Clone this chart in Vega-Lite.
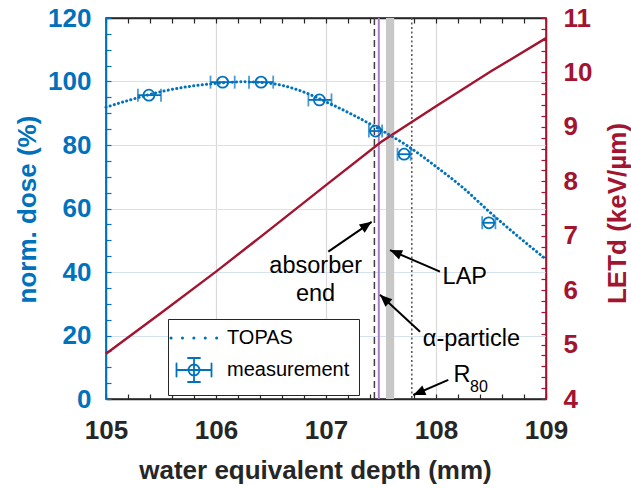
{
  "$schema": "https://vega.github.io/schema/vega-lite/v6.json",
  "width": 440,
  "height": 381,
  "autosize": "none",
  "padding": {"left": 106, "top": 18, "right": 85, "bottom": 89},
  "background": "white",
  "config": {
    "view": {"stroke": "#262626", "strokeWidth": 1.5},
    "font": "Liberation Sans",
    "axis": {
      "labelFont": "Liberation Sans",
      "titleFont": "Liberation Sans",
      "labelFontWeight": "bold",
      "titleFontWeight": "bold",
      "labelFontSize": 26,
      "titleFontSize": 26,
      "domainWidth": 1.5,
      "tickWidth": 1.2
    }
  },
  "datasets": {
    "topas": [
      {"depth": 105.0, "dose": 91.9, "series": "TOPAS"},
      {"depth": 105.25, "dose": 94.5, "series": "TOPAS"},
      {"depth": 105.5, "dose": 96.8, "series": "TOPAS"},
      {"depth": 105.75, "dose": 98.4, "series": "TOPAS"},
      {"depth": 106.0, "dose": 99.4, "series": "TOPAS"},
      {"depth": 106.25, "dose": 99.9, "series": "TOPAS"},
      {"depth": 106.5, "dose": 99.4, "series": "TOPAS"},
      {"depth": 106.75, "dose": 97.3, "series": "TOPAS"},
      {"depth": 107.0, "dose": 93.6, "series": "TOPAS"},
      {"depth": 107.25, "dose": 89.4, "series": "TOPAS"},
      {"depth": 107.5, "dose": 84.7, "series": "TOPAS"},
      {"depth": 107.75, "dose": 79.5, "series": "TOPAS"},
      {"depth": 108.0, "dose": 73.2, "series": "TOPAS"},
      {"depth": 108.25, "dose": 66.4, "series": "TOPAS"},
      {"depth": 108.5, "dose": 58.5, "series": "TOPAS"},
      {"depth": 108.75, "dose": 51.1, "series": "TOPAS"},
      {"depth": 109.0, "dose": 44.0, "series": "TOPAS"}
    ],
    "meas": [
      {"depth": 105.39, "dose": 95.7, "depth_lo": 105.29, "depth_hi": 105.5, "series": "measurement"},
      {"depth": 106.06, "dose": 99.8, "depth_lo": 105.95, "depth_hi": 106.17, "series": "measurement"},
      {"depth": 106.41, "dose": 99.8, "depth_lo": 106.3, "depth_hi": 106.52, "series": "measurement"},
      {"depth": 106.94, "dose": 94.2, "depth_lo": 106.84, "depth_hi": 107.05, "series": "measurement"},
      {"depth": 107.45, "dose": 84.4, "depth_lo": 107.39, "depth_hi": 107.51, "series": "measurement"},
      {"depth": 107.71, "dose": 77.1, "depth_lo": 107.65, "depth_hi": 107.77, "series": "measurement"},
      {"depth": 108.48, "dose": 55.5, "depth_lo": 108.42, "depth_hi": 108.54, "series": "measurement"}
    ],
    "letd": [
      {"depth": 105.0, "letd": 4.83},
      {"depth": 105.5, "letd": 5.58},
      {"depth": 106.0, "letd": 6.34},
      {"depth": 106.5, "letd": 7.13},
      {"depth": 107.0, "letd": 7.93},
      {"depth": 107.5, "letd": 8.72},
      {"depth": 108.0, "letd": 9.38},
      {"depth": 108.5, "letd": 10.02},
      {"depth": 109.0, "letd": 10.63}
    ],
    "markers": [
      {"marker": "absorber end", "depth": 107.44},
      {"marker": "alpha-particle", "depth": 107.48},
      {"marker": "R80", "depth": 107.78}
    ],
    "lap": [{"marker": "LAP", "lo": 107.545, "hi": 107.62}],
    "arrows": [
      {"arrow": "absorber", "depth": 107.021, "dose": 46.4, "depth_head": 107.415, "dose_head": 55.8},
      {"arrow": "LAP", "depth": 108.036, "dose": 40.1, "depth_head": 107.582, "dose_head": 46.9},
      {"arrow": "alpha", "depth": 107.855, "dose": 21.2, "depth_head": 107.491, "dose_head": 32.8},
      {"arrow": "R80", "depth": 108.112, "dose": 6.0, "depth_head": 107.794, "dose_head": 1.26}
    ],
    "labels": [
      {"text": "absorber", "depth": 106.485, "dose": 41.9},
      {"text": "end", "depth": 106.727, "dose": 33.1},
      {"text": "LAP", "depth": 108.06, "dose": 38.4},
      {"text": "α-particle", "depth": 107.88, "dose": 18.9},
      {"text": "R", "depth": 108.16, "dose": 7.6}
    ],
    "sub": [{"text": "80", "depth": 108.31, "dose": 3.9}]
  },
  "layer": [
    {
      "data": {"name": "lap"},
      "mark": {"type": "rect", "color": "#c8c8c8"},
      "encoding": {
        "x": {"field": "lo", "type": "quantitative", "scale": {"domain": [105, 109]},
          "axis": {
            "orient": "bottom",
            "values": [105, 105.2, 105.4, 105.6, 105.8, 106, 106.2, 106.4, 106.6, 106.8, 107, 107.2, 107.4, 107.6, 107.8, 108, 108.2, 108.4, 108.6, 108.8, 109],
            "labelExpr": "abs(datum.value - round(datum.value)) < 0.01 ? format(datum.value, 'd') : ''",
            "tickSize": -5,
            "labelPadding": 23,
            "labelColor": "#262626",
            "domainColor": "#262626",
            "tickColor": "#262626",
            "labelFlush": false,
            "labelOverlap": false,
            "grid": true,
            "gridColor": "#d9d9d9",
            "gridWidth": 1.2,
            "gridOpacity": {"condition": {"test": "abs(datum.value - round(datum.value)) < 0.01", "value": 1}, "value": 0},
            "title": "water equivalent depth (mm)",
            "titleColor": "#262626",
            "titleX": 209,
            "titleY": 79,
            "titleAlign": "center",
            "titleBaseline": "alphabetic"
          }
        },
        "x2": {"field": "hi"}
      }
    },
    {
      "data": {"name": "markers"},
      "transform": [{"filter": "datum.marker === 'absorber end'"}],
      "mark": {"type": "rule", "color": "#404040", "strokeWidth": 1.5, "strokeDash": [7, 4]},
      "encoding": {"x": {"field": "depth", "type": "quantitative", "axis": null}}
    },
    {
      "data": {"name": "markers"},
      "transform": [{"filter": "datum.marker === 'alpha-particle'"}],
      "mark": {"type": "rule", "color": "#b07cc6", "strokeWidth": 2},
      "encoding": {"x": {"field": "depth", "type": "quantitative", "axis": null}}
    },
    {
      "data": {"name": "markers"},
      "transform": [{"filter": "datum.marker === 'R80'"}],
      "mark": {"type": "rule", "color": "#555555", "strokeWidth": 1.5, "strokeDash": [2, 2.5]},
      "encoding": {"x": {"field": "depth", "type": "quantitative", "axis": null}}
    },
    {
      "data": {"name": "letd"},
      "mark": {"type": "line", "color": "#A2142F", "strokeWidth": 2.4},
      "encoding": {
        "x": {"field": "depth", "type": "quantitative",
          "axis": {
            "orient": "top",
            "values": [105, 105.2, 105.4, 105.6, 105.8, 106, 106.2, 106.4, 106.6, 106.8, 107, 107.2, 107.4, 107.6, 107.8, 108, 108.2, 108.4, 108.6, 108.8, 109],
            "labels": false,
            "tickSize": -5,
            "tickColor": "#262626",
            "domainColor": "#262626",
            "grid": false,
            "title": null
          }
        },
        "y": {"field": "letd", "type": "quantitative", "scale": {"domain": [4, 11]},
          "axis": {
            "orient": "right",
            "values": [4, 4.2, 4.4, 4.6, 4.8, 5, 5.2, 5.4, 5.6, 5.8, 6, 6.2, 6.4, 6.6, 6.8, 7, 7.2, 7.4, 7.6, 7.8, 8, 8.2, 8.4, 8.6, 8.8, 9, 9.2, 9.4, 9.6, 9.8, 10, 10.2, 10.4, 10.6, 10.8, 11],
            "labelExpr": "abs(datum.value - round(datum.value)) < 0.01 ? format(datum.value, 'd') : ''",
            "tickSize": -5,
            "labelPadding": 22,
            "labelColor": "#A2142F",
            "domainColor": "#A2142F",
            "tickColor": "#A2142F",
            "labelFlush": false,
            "labelOverlap": false,
            "grid": false,
            "title": "LETd (keV/µm)",
            "titleColor": "#A2142F",
            "titleAngle": 270,
            "titleX": 79,
            "titleY": 195,
            "titleAlign": "center",
            "titleBaseline": "alphabetic"
          }
        }
      }
    },
    {
      "data": {"name": "topas"},
      "mark": {"type": "line", "strokeWidth": 3, "strokeDash": [0.1, 4.2], "strokeCap": "round", "interpolate": "monotone"},
      "encoding": {
        "x": {"field": "depth", "type": "quantitative", "axis": null},
        "y": {"field": "dose", "type": "quantitative", "scale": {"domain": [0, 120]},
          "axis": {
            "orient": "left",
            "values": [0, 5, 10, 15, 20, 25, 30, 35, 40, 45, 50, 55, 60, 65, 70, 75, 80, 85, 90, 95, 100, 105, 110, 115, 120],
            "labelExpr": "datum.value % 20 === 0 ? datum.label : ''",
            "tickSize": -5,
            "labelPadding": 20,
            "labelColor": "#0072BD",
            "domainColor": "#0072BD",
            "tickColor": "#0072BD",
            "labelFlush": false,
            "labelOverlap": false,
            "grid": true,
            "gridColor": "#d5e3f0",
            "gridWidth": 1.2,
            "gridOpacity": {"condition": {"test": "datum.value % 20 === 0", "value": 1}, "value": 0},
            "title": "norm. dose (%)",
            "titleColor": "#0072BD",
            "titleAngle": 270,
            "titleX": -71,
            "titleY": 191,
            "titleAlign": "center",
            "titleBaseline": "alphabetic"
          }
        },
        "color": {
          "field": "series", "type": "nominal",
          "scale": {"domain": ["TOPAS", "measurement"], "range": ["#0072BD", "#0072BD"]},
          "legend": {
            "title": null,
            "orient": "none",
            "legendX": 62,
            "legendY": 301,
            "direction": "vertical",
            "strokeColor": "#262626",
            "fillColor": "white",
            "padding": 9,
            "labelFont": "Liberation Sans",
            "labelFontSize": 20,
            "labelColor": "black",
            "labelFontWeight": "normal",
            "symbolSize": 100,
            "symbolOffset": 7,
            "labelOffset": 23,
            "rowPadding": 6,
            "encode": {
              "symbols": {
                "update": {
                  "shape": {"signal": "datum.value === 'TOPAS' ? 'M-4.6,0L4.6,0' : 'M-3.5,0L3.5,0M-3.5,-1.3L-3.5,1.3M3.5,-1.3L3.5,1.3M0,-2.4L0,2.4M-1.2,-2.4L1.2,-2.4M-1.2,2.4L1.2,2.4M1.1,0A1.1,1.1,0,1,1,-1.1,0A1.1,1.1,0,1,1,1.1,0Z'"},
                  "strokeDash": {"signal": "datum.value === 'TOPAS' ? [0.1, 11.3] : []"},
                  "strokeCap": {"value": "round"},
                  "strokeWidth": {"signal": "datum.value === 'TOPAS' ? 3 : 1.8"},
                  "stroke": {"value": "#0072BD"},
                  "fill": {"value": "transparent"},
                  "size": {"value": 100},
                  "opacity": {"value": 1}
                }
              }
            }
          }
        }
      }
    },
    {
      "data": {"name": "meas"},
      "mark": {"type": "errorbar", "color": "#0072BD", "thickness": 1.8, "ticks": {"size": 13, "thickness": 1.8}},
      "encoding": {
        "x": {"field": "depth_lo", "type": "quantitative", "axis": null},
        "x2": {"field": "depth_hi"},
        "y": {"field": "dose", "type": "quantitative", "scale": {"domain": [0, 120]}, "axis": null}
      }
    },
    {
      "data": {"name": "meas"},
      "mark": {"type": "point", "filled": false, "size": 121, "strokeWidth": 1.8, "opacity": 1},
      "encoding": {
        "x": {"field": "depth", "type": "quantitative", "axis": null},
        "y": {"field": "dose", "type": "quantitative", "scale": {"domain": [0, 120]}, "axis": null},
        "color": {"field": "series", "type": "nominal", "legend": null}
      }
    },
    {
      "data": {"name": "arrows"},
      "mark": {"type": "rule", "color": "black", "strokeWidth": 2},
      "encoding": {
        "x": {"field": "depth", "type": "quantitative", "axis": null},
        "y": {"field": "dose", "type": "quantitative", "scale": {"domain": [0, 120]}, "axis": null},
        "x2": {"field": "depth_head"},
        "y2": {"field": "dose_head"}
      }
    },
    {
      "data": {"name": "arrows"},
      "transform": [{"filter": "datum.arrow === 'absorber'"}],
      "mark": {"type": "point", "shape": "M0,0L-4,-1.7L-4,1.7Z", "angle": -34.7, "filled": true, "color": "black", "size": 36, "opacity": 1},
      "encoding": {
        "x": {"field": "depth_head", "type": "quantitative", "axis": null},
        "y": {"field": "dose_head", "type": "quantitative", "scale": {"domain": [0, 120]}, "axis": null}
      }
    },
    {
      "data": {"name": "arrows"},
      "transform": [{"filter": "datum.arrow === 'LAP'"}],
      "mark": {"type": "point", "shape": "M0,0L-4,-1.7L-4,1.7Z", "angle": 203.5, "filled": true, "color": "black", "size": 36, "opacity": 1},
      "encoding": {
        "x": {"field": "depth_head", "type": "quantitative", "axis": null},
        "y": {"field": "dose_head", "type": "quantitative", "scale": {"domain": [0, 120]}, "axis": null}
      }
    },
    {
      "data": {"name": "arrows"},
      "transform": [{"filter": "datum.arrow === 'alpha'"}],
      "mark": {"type": "point", "shape": "M0,0L-4,-1.7L-4,1.7Z", "angle": 222.5, "filled": true, "color": "black", "size": 36, "opacity": 1},
      "encoding": {
        "x": {"field": "depth_head", "type": "quantitative", "axis": null},
        "y": {"field": "dose_head", "type": "quantitative", "scale": {"domain": [0, 120]}, "axis": null}
      }
    },
    {
      "data": {"name": "arrows"},
      "transform": [{"filter": "datum.arrow === 'R80'"}],
      "mark": {"type": "point", "shape": "M0,0L-4,-1.7L-4,1.7Z", "angle": 156.8, "filled": true, "color": "black", "size": 36, "opacity": 1},
      "encoding": {
        "x": {"field": "depth_head", "type": "quantitative", "axis": null},
        "y": {"field": "dose_head", "type": "quantitative", "scale": {"domain": [0, 120]}, "axis": null}
      }
    },
    {
      "data": {"name": "labels"},
      "mark": {"type": "text", "font": "Liberation Sans", "fontSize": 23.5, "color": "black", "align": "left", "baseline": "middle"},
      "encoding": {
        "x": {"field": "depth", "type": "quantitative", "axis": null},
        "y": {"field": "dose", "type": "quantitative", "scale": {"domain": [0, 120]}, "axis": null},
        "text": {"field": "text"}
      }
    },
    {
      "data": {"name": "sub"},
      "mark": {"type": "text", "font": "Liberation Sans", "fontSize": 16, "color": "black", "align": "left", "baseline": "middle"},
      "encoding": {
        "x": {"field": "depth", "type": "quantitative", "axis": null},
        "y": {"field": "dose", "type": "quantitative", "scale": {"domain": [0, 120]}, "axis": null},
        "text": {"field": "text"}
      }
    }
  ],
  "resolve": {"scale": {"y": "independent"}, "axis": {"x": "independent", "y": "independent"}}
}
